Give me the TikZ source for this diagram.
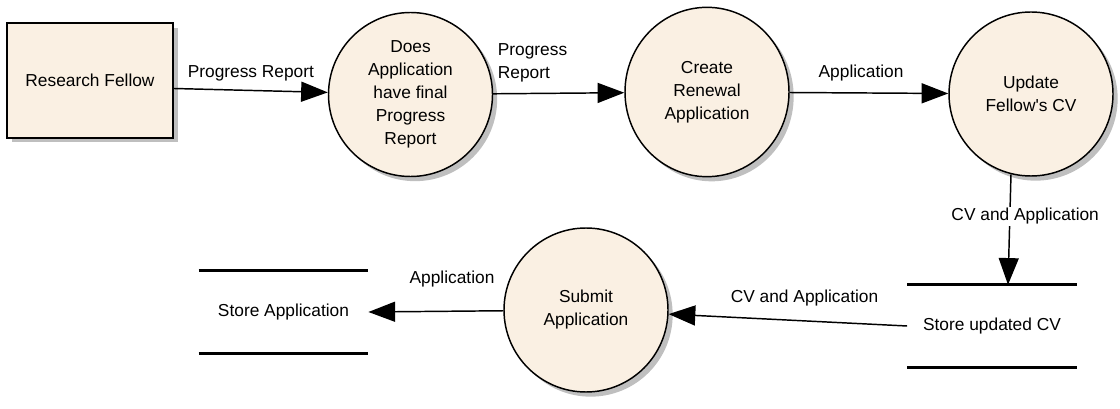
\documentclass[tikz,border=0pt]{standalone}
\usepackage{fontspec}
\setmainfont{Liberation Sans}
\usetikzlibrary{arrows.meta,shapes.geometric,shadows}
\definecolor{cream}{RGB}{250,240,227}

\begin{document}
\begin{tikzpicture}[x=0.75pt,y=-0.75pt,>={Triangle[length=20pt,width=15pt]},
    every node/.style={font=\fontsize{13}{17.25}\selectfont},
    flow/.style={line width=1.1pt},
    my shadow/.style={drop shadow={shadow xshift=3.5pt,shadow yshift=-3.5pt,fill=black!25,opacity=1}},
    entity node/.style={rectangle,draw,line width=1.5pt,fill=cream,minimum width=124.5pt,minimum height=86pt,my shadow},
    process node/.style={ellipse,draw,line width=1.1pt,fill=cream,minimum width=123pt,minimum height=123pt,inner sep=0pt,align=center,my shadow},
    store node/.style={minimum width=127pt,minimum height=61.5pt},
    store line/.style={line width=2.25pt}]
                \useasboundingbox (0,0) rectangle (1120,409);

                \node[entity node] at (90,80.5) (rf) {Research Fellow};
                \node[process node] at (410.5,94.5) (chk) {Does\\Application\\have final\\Progress\\Report};
                \node[process node, minimum height=127pt] at (707,92) (crt) {Create\\Renewal\\Application};
                \node[process node] at (1031,94) (upd) {Update\\Fellow\textquotesingle s CV};
                \node[process node] at (586,310) (sub) {Submit\\Application};
                \node[store node] at (283.5,312) (sua) {Store Application};
                \node[store node] at (992,326) (suc) {Store updated CV};

                % data stores
                \draw[store line] (sua.north west) -- (sua.north east);
                \draw[store line] (sua.south west) -- (sua.south east);
                \draw[store line] (suc.north west) -- (suc.north east);
                \draw[store line] (suc.south west) -- (suc.south east);

                \path[->,flow] ([yshift=-6pt]rf.east) edge node [above=3pt] {Progress Report} (chk);
                \path[->,flow] (chk) edge node [above=5pt,pos=0.3,align=left] {Progress\\Report} (crt);
                \path[->,flow] (crt) edge node [above=5pt,pos=0.45] {Application} (upd);
                \path[->,flow] (upd.256) edge node [pos=0.38,xshift=11.5pt,fill=white,inner sep=1pt] {CV and Application} ([xshift=12pt]suc.north);
                \path[->,flow] (suc.west) edge node [above=7pt,pos=0.43] {CV and Application} (sub);
                \path[->,flow] (sub) edge node [above=14pt,pos=0.38] {Application} (sua.east);
            \end{tikzpicture}
\end{document}
